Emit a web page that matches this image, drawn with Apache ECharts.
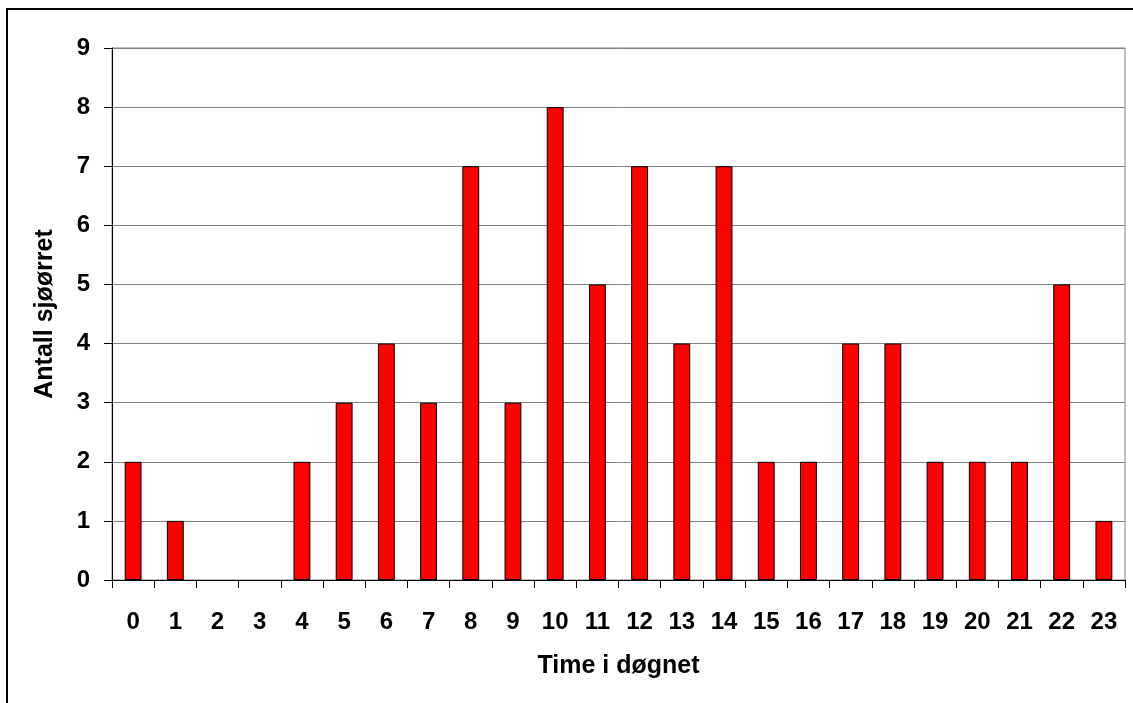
<!DOCTYPE html>
<html>
<head>
<meta charset="utf-8">
<script src="https://cdn.jsdelivr.net/npm/echarts@6/dist/echarts.min.js"></script>
<style>
  html, body { margin: 0; padding: 0; background: #fff; overflow: hidden; }
  #frame { position: absolute; left: 6px; top: 8px; width: 2000px; height: 2000px;
           border-left: 2px solid #000; border-top: 2px solid #000; }
  #chart { position: absolute; left: 0; top: 0; width: 1133px; height: 703px; }
</style>
</head>
<body>
<div id="frame"></div>
<div id="chart"></div>
<script>
const categories = ['0','1','2','3','4','5','6','7','8','9','10','11','12','13','14','15','16','17','18','19','20','21','22','23'];
const counts = [2,1,0,0,2,3,4,3,7,3,8,5,7,4,7,2,2,4,4,2,2,2,5,1];
const xTitle = 'Time i døgnet';
const yTitle = 'Antall sjøørret';

const chart = echarts.init(document.getElementById('chart'), null, { renderer: 'canvas' });
const font = 'Liberation Sans, Arial, sans-serif';
const barData = counts.map(v => v === 0 ? { value: v, itemStyle: { borderWidth: 0 } } : v);
chart.setOption({
  animation: false,
  backgroundColor: 'transparent',
  grid: { left: 112, right: 8, top: 48, bottom: 123, show: true, borderColor: '#808080', borderWidth: 1 },
  xAxis: {
    type: 'category',
    data: categories,
    boundaryGap: true,
    name: xTitle,
    nameLocation: 'middle',
    nameGap: 74,
    nameTextStyle: { fontFamily: font, fontWeight: 'bold', fontSize: 25, color: '#000' },
    axisLine: { lineStyle: { color: '#000', width: 1 } },
    axisTick: { show: true, alignWithLabel: false, length: 8, lineStyle: { color: '#000' } },
    axisLabel: { margin: 30, fontFamily: font, fontWeight: 'bold', fontSize: 24, color: '#000', interval: 0 },
    splitLine: { show: false }
  },
  yAxis: {
    type: 'value',
    min: 0, max: 9, interval: 1,
    name: yTitle,
    nameLocation: 'middle',
    nameGap: 54,
    nameRotate: 90,
    nameTextStyle: { fontFamily: font, fontWeight: 'bold', fontSize: 25, color: '#000' },
    axisLine: { show: true, lineStyle: { color: '#000', width: 1 } },
    axisTick: { show: true, length: 8, lineStyle: { color: '#000' } },
    axisLabel: { margin: 22, fontFamily: font, fontWeight: 'bold', fontSize: 24, color: '#000' },
    splitLine: { show: true, lineStyle: { color: '#808080', width: 1 } }
  },
  series: [{
    type: 'bar',
    data: barData,
    barWidth: '40%',
    itemStyle: { color: '#FF0000', borderColor: '#000', borderWidth: 1 }
  }]
});
</script>
</body>
</html>
